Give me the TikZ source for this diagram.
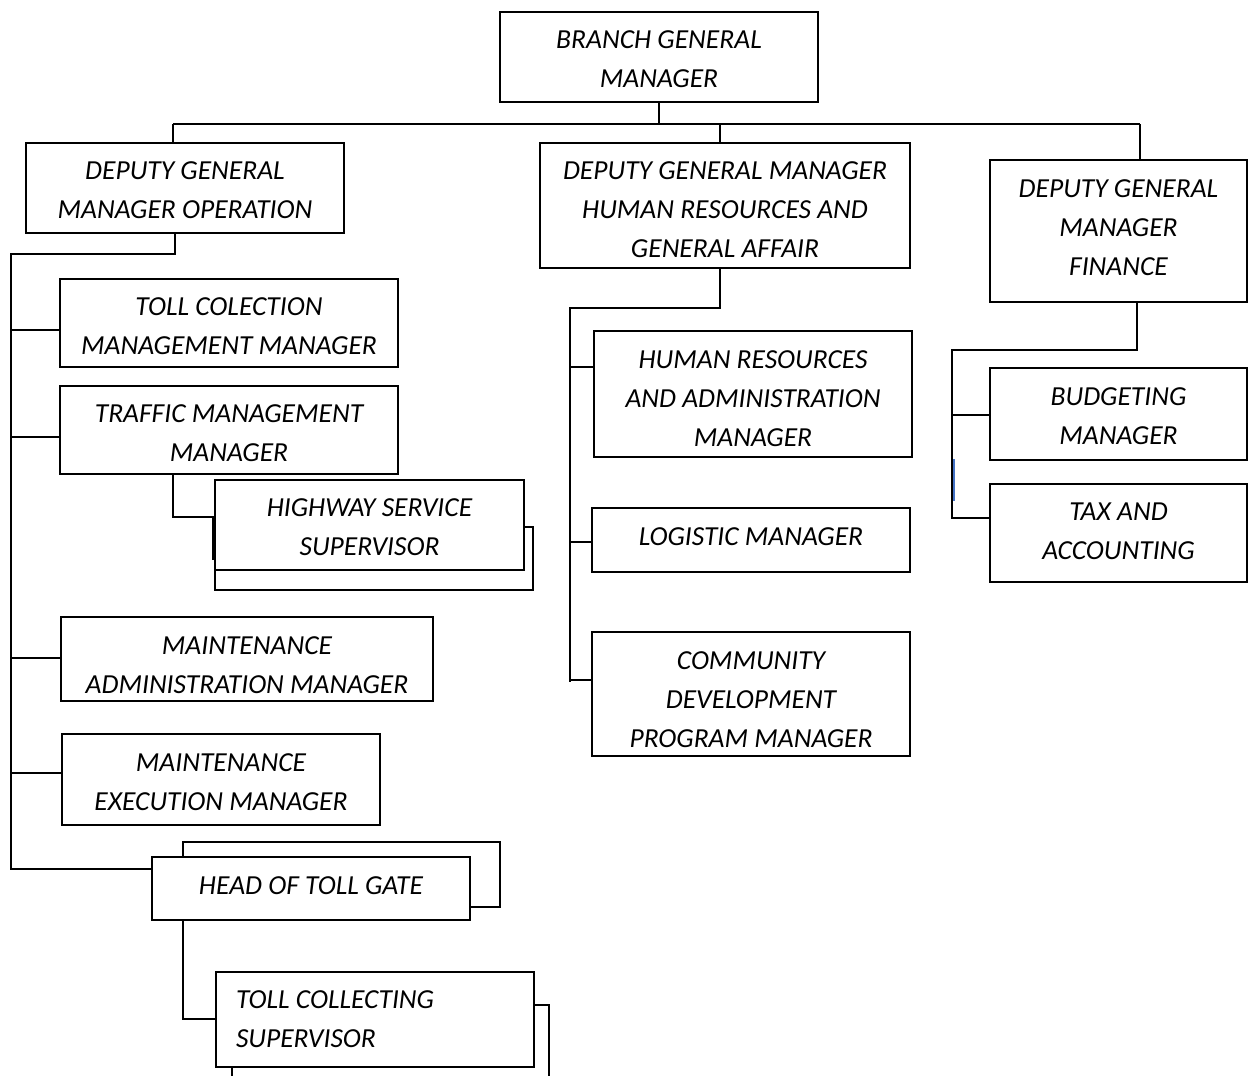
\documentclass[tikz,border=0pt]{standalone}
\usepackage{fontspec}
\setmainfont{Carlito}
\newcommand\boxfont{\fontsize{27.5}{39}\selectfont\itshape}
\newcommand\tx[2]{\raisebox{-#1pt}[\height][\depth]{\begin{tabular}{@{}c@{}}#2\end{tabular}}}
\tikzset{
  box/.style={draw, line width=1.5pt, fill=white, inner sep=0pt, font=\boxfont},
  ln/.style={line width=1.5pt},
}
\begin{document}
\begin{tikzpicture}[x=1pt,y=-1pt]
\useasboundingbox (0,0) rectangle (1248,1076);
\clip (0,0) rectangle (1248,1076);
\fill[white] (0,0) rectangle (1248,1076);

% top
\node[box, minimum width=318, minimum height=90] (bgm) at (659,57) {\tx{3}{BRANCH GENERAL\\MANAGER}};
\node[box, minimum width=318, minimum height=90] (dgmop) at (185,188) {\tx{3}{DEPUTY GENERAL\\MANAGER OPERATION}};
\node[box, minimum width=370, minimum height=125] (dgmhr) at (725,205.5) {\tx{5.5}{DEPUTY GENERAL MANAGER\\HUMAN RESOURCES AND\\GENERAL AFFAIR}};
\node[box, align=center, text depth=6pt, minimum width=257, minimum height=142] (dgmfin) at (1118.5,231) {DEPUTY GENERAL\\MANAGER\\FINANCE};

% operation branch
\node[box, minimum width=338, minimum height=88] (toll) at (229,323) {\tx{4.5}{TOLL COLECTION\\MANAGEMENT MANAGER}};
\node[box, minimum width=338, minimum height=88] (traffic) at (229,430) {\tx{4.5}{TRAFFIC MANAGEMENT\\MANAGER}};
\node[box, minimum width=318, minimum height=63] (hwyback) at (374,558.5) {};
\node[box, minimum width=309, minimum height=90] (hwy) at (369.5,525) {\tx{3}{HIGHWAY SERVICE\\SUPERVISOR}};
\node[box, minimum width=372, minimum height=84] (mainadm) at (247,659) {\tx{7}{MAINTENANCE\\ADMINISTRATION MANAGER}};
\node[box, minimum width=318, minimum height=91] (mainex) at (221,779.5) {\tx{4}{MAINTENANCE\\EXECUTION MANAGER}};
\node[box, minimum width=317, minimum height=65] (htgback) at (341.5,874.5) {};
\node[box, text depth=6pt, minimum width=318, minimum height=63] (htg) at (311,888.5) {HEAD OF TOLL GATE};
\node[box, minimum width=317, minimum height=95] (tcsback) at (390.5,1052.5) {};
\node[box, minimum width=318, minimum height=95, text width=278, align=flush left] (tcs) at (375,1019.5) {TOLL COLLECTING\\SUPERVISOR};

% HR branch
\node[box, minimum width=318, minimum height=126] (hradm) at (753,394) {\tx{6}{HUMAN RESOURCES\\AND ADMINISTRATION\\MANAGER}};
\node[box, text depth=6pt, minimum width=318, minimum height=64] (logi) at (751,540) {LOGISTIC MANAGER};
\node[box, minimum width=318, minimum height=124] (comm) at (751,694) {\tx{7}{COMMUNITY\\DEVELOPMENT\\PROGRAM MANAGER}};

% finance branch
\node[box, minimum width=257, minimum height=92] (budg) at (1118.5,414) {\tx{3}{BUDGETING\\MANAGER}};
\node[box, align=center, text depth=4pt, minimum width=257, minimum height=98] (tax) at (1118.5,533) {TAX AND\\ACCOUNTING};

% top connectors
\coordinate (busL) at (173,124);
\coordinate (busM) at (720,124);
\coordinate (busR) at (1140,124);
\draw[ln] (bgm.south) -- (bgm.south |- busL);
\draw[ln] (busL) -- (busR);
\draw[ln] (busL) -- (busL |- dgmop.north);
\draw[ln] (busM) -- (busM |- dgmhr.north);
\draw[ln] (busR) -- (busR |- dgmfin.north);

% operation connectors
\coordinate (opA) at (175,254);
\coordinate (opL) at (11,254);
\coordinate (opB) at (11,870);
\draw[ln] (opA |- dgmop.south) -- (opA) -- (opL) -- (opB);
\draw[ln] (opL |- 0,330) -- (toll.west |- 0,330);
\draw[ln] (opL |- 0,437) -- (traffic.west |- 0,437);
\draw[ln] (opL |- 0,658) -- (mainadm.west |- 0,658);
\draw[ln] (opL |- 0,773) -- (mainex.west |- 0,773);
\draw[ln] (opL |- 0,869) -- (htg.west |- 0,869);
\coordinate (tr1) at (173,517);
\coordinate (tr2) at (213,517);
\coordinate (tr3) at (213,560);
\draw[ln] (traffic.south -| tr1) -- (tr1) -- (tr2) -- (tr3);
\coordinate (hg1) at (183,1019);
\draw[ln] (htg.south -| hg1) -- (hg1) -- (tcs.west |- hg1);

% HR connectors
\coordinate (hrA) at (720,308);
\coordinate (hrL) at (570,308);
\coordinate (hrB) at (570,682);
\draw[ln] (dgmhr.south -| hrA) -- (hrA) -- (hrL) -- (hrB);
\draw[ln] (hrL |- 0,367) -- (hradm.west |- 0,367);
\draw[ln] (hrL |- 0,542) -- (logi.west |- 0,542);
\draw[ln] (hrL |- 0,680) -- (comm.west |- 0,680);

% finance connectors
\coordinate (fA) at (1137,350);
\coordinate (fL) at (952,350);
\coordinate (fB) at (952,518);
\draw[ln] (dgmfin.south -| fA) -- (fA) -- (fL) -- (fB) -- (tax.west |- fB);
\draw[ln] (fL |- 0,415) -- (budg.west |- 0,415);
\draw[line width=1.5pt, color={rgb,255:red,68;green,114;blue,196}] (954,459) -- (954,501);
\end{tikzpicture}
\end{document}
